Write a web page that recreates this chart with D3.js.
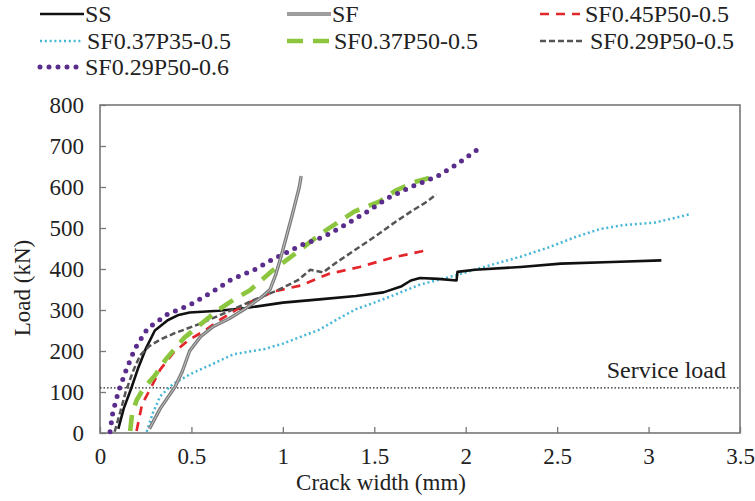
<!DOCTYPE html>
<html><head><meta charset="utf-8">
<script src="https://cdn.jsdelivr.net/npm/d3@7"></script>
<style>body{margin:0;background:#fff}svg{display:block}svg text{font-family:'Liberation Serif','Times New Roman','DejaVu Serif',serif !important}</style>
</head><body><svg id="c" width="755" height="501"></svg>
<script>
const seriesNames = ["SS","SF","SF0.45P50-0.5","SF0.37P35-0.5","SF0.37P50-0.5","SF0.29P50-0.5","SF0.29P50-0.6"];
const xTicks = [0,0.5,1,1.5,2,2.5,3,3.5];
const yTicks = [0,100,200,300,400,500,600,700,800];
const serviceLoad = 110;
const xTitle = "Crack width (mm)";
const yTitle = "Load (kN)";
const serviceLabel = "Service load";

const SS = [[0.10,10],[0.13,60],[0.17,108],[0.21,160],[0.25,205],[0.30,250],[0.37,275],[0.43,288],[0.49,294],[0.65,298],[0.8,305],[1.0,318],[1.2,326],[1.4,334],[1.55,343],[1.65,358],[1.70,372],[1.75,378],[1.85,376],[1.95,372],[1.955,393],[2.05,398],[2.3,405],[2.52,413],[2.8,417],[3.07,421]];
const SF = [[0.27,10],[0.33,60],[0.41,112],[0.45,150],[0.49,200],[0.55,235],[0.62,260],[0.71,280],[0.80,305],[0.88,330],[0.93,350],[0.96,385],[0.99,430],[1.02,480],[1.05,530],[1.07,565],[1.09,600],[1.10,627]];
const SF045P50_05 = [[0.20,5],[0.23,70],[0.28,112],[0.33,155],[0.40,195],[0.48,225],[0.58,252],[0.67,280],[0.80,315],[0.95,345],[1.10,360],[1.25,388],[1.42,405],[1.60,428],[1.79,446]];
const SF037P35_05 = [[0.255,3],[0.29,50],[0.33,90],[0.40,120],[0.50,145],[0.60,165],[0.73,192],[0.90,205],[1.0,218],[1.10,235],[1.2,252],[1.3,278],[1.4,302],[1.5,318],[1.6,335],[1.75,362],[1.95,385],[2.1,405],[2.3,430],[2.45,452],[2.6,478],[2.73,497],[2.86,507],[3.03,513],[3.12,522],[3.23,534]];
const SF037P50_05 = [[0.165,5],[0.175,45],[0.20,80],[0.24,110],[0.30,140],[0.36,180],[0.46,232],[0.55,265],[0.64,298],[0.73,325],[0.82,348],[0.94,395],[1.06,435],[1.22,490],[1.39,540],[1.53,565],[1.62,592],[1.72,612],[1.80,622]];
const SF029P50_05 = [[0.08,3],[0.11,50],[0.14,100],[0.18,150],[0.22,190],[0.27,212],[0.33,228],[0.40,242],[0.55,267],[0.71,298],[0.86,328],[0.97,348],[1.08,372],[1.15,398],[1.22,392],[1.30,418],[1.40,448],[1.50,478],[1.60,510],[1.70,540],[1.78,562],[1.84,582]];
const SF029P50_06 = [[0.055,3],[0.07,50],[0.10,100],[0.14,150],[0.19,205],[0.26,255],[0.37,290],[0.49,312],[0.61,343],[0.72,375],[0.84,397],[0.95,425],[1.10,458],[1.23,480],[1.35,510],[1.48,545],[1.57,572],[1.70,600],[1.84,625],[1.95,655],[2.06,690]];

const seriesData = [SS,SF,SF045P50_05,SF037P35_05,SF037P50_05,SF029P50_05,SF029P50_06];
const styles = [
  {stroke:"#111",w:2.6,dash:null},
  {stroke:"#7a7a7a",w:3.4,dash:null,inner:"#c4c4c4"},
  {stroke:"#e3262b",w:2.7,dash:"9,7"},
  {stroke:"#45b6d6",w:2.5,dash:"2,2.8"},
  {stroke:"#8cc63f",w:4.6,dash:"16,10"},
  {stroke:"#555",w:2.5,dash:"6,3"},
  {stroke:"#5a2d8c",w:5,dash:"0,9",cap:"round"}
];

const FS = 23, FSL = 24;
const svg = d3.select("#c");
const L=100,R=740,T=105,B=433;
const x = d3.scaleLinear().domain([0,3.5]).range([L,R]);
const y = d3.scaleLinear().domain([0,800]).range([B,T]);

// axes
const xa = svg.append("g").attr("transform",`translate(0,${B})`)
  .call(d3.axisBottom(x).tickValues(xTicks).tickSize(-6).tickPadding(10).tickFormat(d3.format("")));
const ya = svg.append("g").attr("transform",`translate(${L},0)`)
  .call(d3.axisLeft(y).tickValues(yTicks).tickSize(-6).tickPadding(16).tickFormat(d3.format("")));
[xa,ya].forEach(g=>{
  g.attr("font-size",FS);
  g.select(".domain").remove();
  g.selectAll("line").attr("stroke","#777").attr("stroke-width",1.3);
  g.selectAll("text").attr("fill","#222");
});
xa.selectAll("text").attr("dy","0.9em");
svg.append("rect").attr("x",L).attr("y",T).attr("width",R-L).attr("height",B-T)
  .attr("fill","none").attr("stroke","#777").attr("stroke-width",1.6);

const txt = (sel,fs)=>sel.append("text").attr("font-size",fs||FS).attr("fill","#222");

// service load
svg.append("line").attr("x1",L).attr("x2",R).attr("y1",y(serviceLoad)).attr("y2",y(serviceLoad))
  .attr("stroke","#222").attr("stroke-width",1.4).attr("stroke-dasharray","1.5,2");
txt(svg,FSL).attr("x",726).attr("y",y(serviceLoad)-10).attr("text-anchor","end").text(serviceLabel);

const line = d3.line().x(d=>x(d[0])).y(d=>y(d[1]));
const draw = (g,s,d)=>{
  g.append("path").attr("d",d).attr("fill","none").attr("stroke",s.stroke).attr("stroke-width",s.w)
   .attr("stroke-dasharray",s.dash).attr("stroke-linecap",s.cap||"butt").attr("stroke-linejoin","round");
  if(s.inner) g.append("path").attr("d",d).attr("fill","none").attr("stroke",s.inner).attr("stroke-width",1);
};
const order=[3,0,2,5,4,6,1];
order.forEach(i=>draw(svg.append("g"),styles[i],line(seriesData[i])));

// legend
const legPos = [[40,14],[287,14],[540,14],[40,41],[287,41],[540,41],[40,67]];
const legLen = [44,44,40,42,42,45,40];
seriesNames.forEach((n,i)=>{
  const [lx,ly]=legPos[i];
  const g=svg.append("g");
  draw(g,styles[i],`M${lx},${ly}L${lx+legLen[i]},${ly}`);
  txt(g,FSL).attr("x",lx+legLen[i]+(i<2?1:5)).attr("y",ly).attr("dy","0.35em").text(n);
});

// titles
txt(svg).attr("x",381).attr("y",490).attr("text-anchor","middle").text(xTitle);
txt(svg).attr("transform","translate(30,288) rotate(-90)").attr("text-anchor","middle").text(yTitle);
</script></body></html>
